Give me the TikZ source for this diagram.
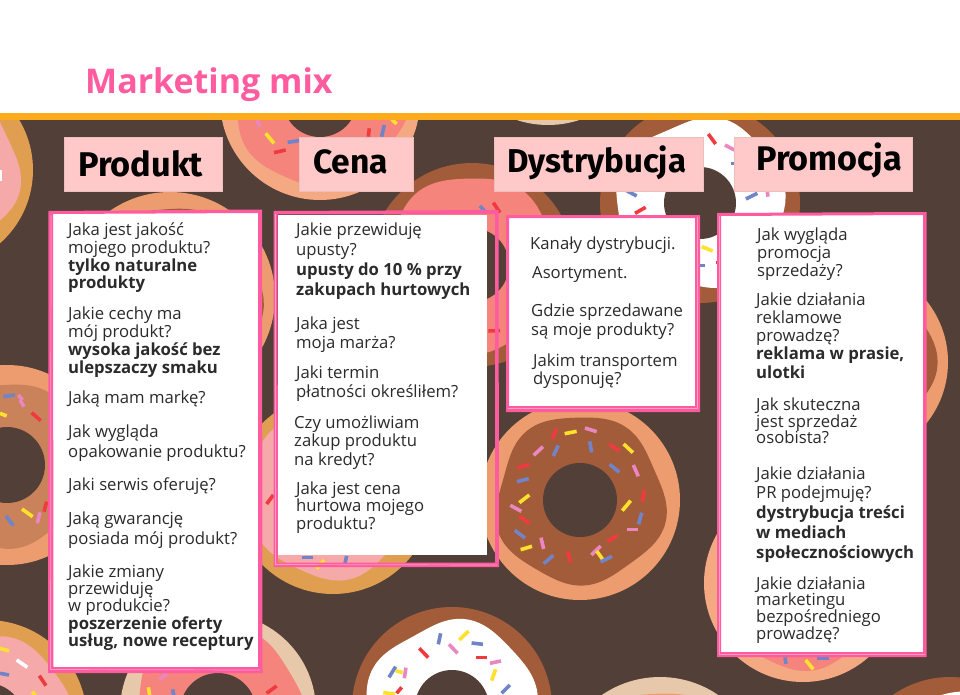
\documentclass[tikz,border=0pt]{standalone}
\usepackage{fontspec}
\usepackage{graphicx}
\setmainfont{Open Sans}
\newfontfamily\headfont{Fira Sans}
\definecolor{bgc}{HTML}{523F37}
\definecolor{barc}{HTML}{FDAB1A}
\definecolor{hdrc}{HTML}{FFC9C9}
\definecolor{pinkc}{HTML}{FF5CA0}
\definecolor{pinkl}{HTML}{FF9CC6}
\definecolor{txtc}{HTML}{2B2B2B}
\definecolor{choc}{HTML}{A35C39}
\definecolor{tanc}{HTML}{ED9C6F}
\definecolor{peach}{HTML}{F4A983}
\definecolor{salm}{HTML}{F5847D}
\definecolor{rosec}{HTML}{F5A9A8}
\definecolor{must}{HTML}{E09F50}
\definecolor{beige}{HTML}{E8C8AB}
\definecolor{milk}{HTML}{C98259}
\definecolor{sR}{HTML}{EF3B3F}
\definecolor{sY}{HTML}{FDE12D}
\definecolor{sB}{HTML}{6F84C9}
\definecolor{sP}{HTML}{EA86C0}
\tikzset{
  x=1pt,y=-1pt,
  sprk/.style={line width=3.6pt},
  hdrbox/.style={fill=hdrc,draw=hdrc!85!gray,line width=.4pt},
  hdrtxt/.style={anchor=base west,inner sep=0pt,text=black},
  paranode/.style={anchor=north west,inner sep=0pt,align=left,text=txtc},
  frameA/.style={fill=pinkc,even odd rule},
  frameB/.style={draw=pinkl,line width=.7pt},
  panel/.style={fill=white,draw=none}
}
% cx cy r ri phase base icing hole
\newcommand\donut[8]{%
  \begin{scope}[shift={(#1,#2)}]
    \fill[#6] (0,0) circle[radius=#3];
    \fill[#7] plot[domain=0:360,samples=61,smooth] (\x:{#4+3*sin(5*\x+#5)+1.5*sin(3*\x+2*#5)}) -- cycle;
    \fill[bgc] (0,0) circle[radius=#8];
  \end{scope}}
\newcommand\spr[5]{\draw[sprk,#1] (#2,#3) -- (#4,#5);}
\newcommand\mypara[5]{\node[paranode,font=\fontsize{16.7}{#4}\selectfont] (#1) at (#2,{#3-14}) {\vrule width 0pt height 14pt\relax #5};}
\newcommand\hdr[5]{\node[hdrtxt] (#1) at (#2,#3) {\resizebox{#4pt}{!}{\headfont\bfseries #5}};}
\AtBeginDocument{\lineskiplimit=-20pt\relax}
\begin{document}
\begin{tikzpicture}
\clip (0,0) rectangle (960,695);
\fill[bgc] (0,0) rectangle (960,695);
% doughnuts
\donut{-65}{170}{98}{83}{20}{must}{rosec}{37}
\donut{320}{100}{100}{86}{70}{peach}{salm}{37}
\donut{170}{297}{105}{90}{40}{tanc}{choc}{37}
\donut{472}{265}{102}{88}{10}{choc}{salm}{37}
\donut{700}{203}{100}{84}{120}{choc}{white}{36}
\donut{548}{25}{100}{85}{0}{beige}{tanc}{37}
\donut{333}{494}{100}{84}{60}{must}{rosec}{37}
\donut{7}{465}{100}{82}{30}{tanc}{milk}{38}
\donut{-13}{720}{100}{84}{90}{must}{rosec}{37}
\donut{218}{711}{98}{84}{50}{beige}{salm}{38}
\donut{452}{707}{100}{85}{140}{choc}{white}{37}
\donut{580}{500}{100}{84}{15}{tanc}{choc}{37}
\donut{850}{362}{98}{84}{75}{tanc}{choc}{37}
\donut{803}{583}{99}{86}{35}{peach}{salm}{37}
\donut{950}{777}{100}{85}{100}{choc}{white}{37}
\donut{660}{780}{103}{88}{20}{beige}{tanc}{37}
% sprinkles, central doughnut
\begin{scope}[shift={(480,400)},x=0.3333pt,y=-0.3333pt]
\spr{sR}{217}{118}{229}{86}\spr{sY}{254}{101}{290}{94}\spr{sP}{315}{84}{350}{95}
\spr{sB}{220}{168}{235}{136}\spr{sB}{329}{124}{335}{157}\spr{sR}{388}{133}{418}{153}
\spr{sY}{431}{132}{459}{158}\spr{sP}{161}{166}{189}{140}\spr{sR}{113}{204}{148}{193}
\spr{sB}{389}{193}{418}{217}\spr{sP}{460}{195}{475}{229}\spr{sB}{111}{245}{146}{236}
\spr{sR}{493}{270}{487}{305}\spr{sY}{118}{308}{148}{285}\spr{sY}{427}{332}{452}{302}
\spr{sP}{91}{316}{124}{334}\spr{sB}{485}{338}{476}{373}\spr{sR}{119}{349}{149}{371}
\spr{sP}{440}{389}{475}{389}\spr{sB}{104}{391}{135}{414}\spr{sR}{382}{425}{413}{406}
\spr{sY}{122}{449}{156}{439}\spr{sP}{183}{413}{191}{447}\spr{sP}{334}{465}{362}{438}
\spr{sB}{191}{491}{220}{466}\spr{sR}{263}{453}{271}{487}\spr{sY}{350}{453}{368}{478}
\spr{sB}{362}{486}{396}{469}
\spr{sB}{915}{772}{918}{792}\spr{sY}{977}{780}{1000}{808}\spr{sB}{1012}{775}{1048}{775}
\end{scope}
% sprinkles, lower left and bottom
\begin{scope}[shift={(0,400)},x=0.3333pt,y=-0.3333pt]
\spr{sY}{0}{40}{20}{48}\spr{sP}{60}{0}{72}{20}\spr{sR}{95}{38}{122}{62}
\spr{sY}{66}{327}{98}{350}\spr{sP}{120}{337}{112}{370}\spr{sB}{18}{348}{40}{377}
\spr{sR}{140}{305}{132}{335}\spr{sB}{10}{-10}{45}{-15}\spr{sP}{55}{-15}{68}{0}
\spr{sY}{0}{745}{27}{753}\draw[sprk,white] (50,780) -- (82,802);
\spr{sB}{0}{820}{27}{825}\spr{sR}{118}{827}{138}{857}\spr{sY}{97}{875}{108}{890}
\spr{sY}{445}{862}{450}{890}\spr{sB}{518}{868}{522}{890}\spr{sP}{478}{838}{500}{822}
\spr{sR}{800}{880}{830}{858}
\spr{sB}{905}{472}{940}{472}\spr{sY}{950}{507}{972}{480}\spr{sB}{1033}{500}{1040}{468}
\spr{sR}{800}{312}{820}{285}
\spr{sB}{1322}{700}{1315}{733}\spr{sY}{1378}{720}{1406}{693}\spr{sB}{1415}{729}{1449}{733}
\spr{sP}{1347}{733}{1373}{760}\spr{sR}{1258}{745}{1285}{773}\spr{sR}{1427}{772}{1462}{772}
\spr{sP}{1470}{790}{1503}{783}\spr{sB}{1167}{832}{1187}{800}\spr{sY}{1187}{812}{1208}{818}
\spr{sP}{1218}{803}{1213}{835}\spr{sY}{1487}{808}{1475}{842}\spr{sB}{1505}{880}{1530}{855}
\spr{sR}{1190}{880}{1205}{862}\spr{sY}{1150}{878}{1185}{882}
\end{scope}
% sprinkles, upper row
\begin{scope}[shift={(480,100)},x=0.3333pt,y=-0.3333pt]
\spr{sR}{685}{102}{707}{132}\spr{sP}{735}{135}{763}{150}\spr{sB}{752}{190}{763}{190}
\spr{sB}{798}{297}{832}{280}\spr{sP}{862}{275}{864}{290}\spr{sB}{440}{272}{470}{288}
\spr{sR}{465}{340}{497}{322}\spr{sY}{665}{440}{698}{453}\spr{sB}{660}{497}{675}{497}
\spr{sR}{708}{488}{718}{488}\spr{sR}{25}{693}{60}{692}\spr{sR}{40}{308}{60}{338}
\spr{sB}{0}{318}{15}{335}
\end{scope}
\begin{scope}[shift={(220,110)},x=0.3333pt,y=-0.3333pt]
\spr{sP}{110}{30}{120}{50}\spr{sY}{137}{70}{162}{100}\spr{sB}{203}{97}{237}{92}
\spr{sR}{162}{128}{197}{120}\spr{sR}{448}{55}{445}{80}\spr{sB}{493}{45}{485}{80}
\spr{sY}{515}{28}{530}{42}
\end{scope}
\fill[white] (0,170) rectangle (2,181);
% top band
\fill[white] (0,0) rectangle (960,113);
\fill[barc] (0,113) rectangle (960,120);
\node[anchor=base west,inner sep=0pt,text=pinkc,font=\fontsize{34}{40}\selectfont\bfseries] (title) at (85,93.5) {Marketing mix};
% column headers
\draw[hdrbox] (64,137) rectangle (222,191);
\draw[hdrbox] (299,137) rectangle (413,191);
\draw[hdrbox] (494,137) rectangle (703,191);
\draw[hdrbox] (734,137) rectangle (912,191);
\hdr{hprod}{78}{176}{125}{Produkt}
\hdr{hcena}{313}{174}{75}{Cena}
\hdr{hdys}{507}{172}{179}{Dystrybucja}
\hdr{hprom}{756}{171}{146}{Promocja}
% panels
\fill[panel] (50,213) rectangle (259,668);
\fill[frameA] (48.5,211) -- (262,209.5) -- (262.5,673) -- (48,673) -- cycle (53,214) -- (258,213) -- (258,667) -- (53.5,667) -- cycle;
\draw[frameB] (51,215) -- (50.5,669.5) -- (260,670);
\fill[frameA] (273.5,211) -- (498.5,210) -- (499,567) -- (273.5,567) -- cycle (277.5,214.5) -- (495,214) -- (495,562.5) -- (278,562.5) -- cycle;
\draw[frameB] (275.5,214) -- (275.5,564.5) -- (497,565);
\fill[panel] (278,215) rectangle (487,555);
\fill[panel] (508,218) rectangle (695,406);
\fill[frameA] (506,215) -- (700,215) -- (700,412) -- (506,412) -- cycle (509,218) -- (695,218) -- (695,406) -- (509,406) -- cycle;
\draw[frameB] (507.5,408.5) -- (697.5,408.5) -- (697.5,217);
\fill[panel] (720,215) rectangle (923,652);
\fill[frameA] (717,213) -- (926.5,212) -- (926.5,657) -- (717,657) -- cycle (721,216) -- (923,215) -- (923,652) -- (721,652) -- cycle;
\draw[frameB] (719,216) -- (719,654.5) -- (924.5,654.5);
% Produkt
\mypara{p1}{68}{235}{17.9}{Jaka jest jakość\\mojego produktu?\\\textbf{tylko naturalne}\\\textbf{produkty}}
\mypara{p2}{68}{319}{18.2}{Jakie cechy ma\\mój produkt?\\\textbf{wysoka jakość bez}\\\textbf{ulepszaczy smaku}}
\mypara{p3}{68}{403}{18}{Jaką mam markę?}
\mypara{p4}{68}{437}{20}{Jak wygląda\\opakowanie produktu?}
\mypara{p5}{68}{490}{18}{Jaki serwis oferuję?}
\mypara{p6}{68}{524}{20}{Jaką gwarancję\\posiada mój produkt?}
\mypara{p7}{68}{577}{17.3}{Jakie zmiany\\przewiduję\\w produkcie?\\\textbf{poszerzenie oferty}\\\textbf{usług, nowe receptury}}
% Cena
\mypara{c1}{296}{235}{20}{Jakie przewiduję\\upusty?\\\textbf{upusty do 10 \% przy}\\\textbf{zakupach hurtowych}}
\mypara{c2}{296}{329}{19}{Jaka jest\\moja marża?}
\mypara{c3}{296}{378}{19}{Jaki termin\\płatności określiłem?}
\mypara{c4}{294}{428}{18.5}{Czy umożliwiam\\zakup produktu\\na kredyt?}
\mypara{c5}{296}{494}{17.5}{Jaka jest cena\\hurtowa mojego\\produktu?}
% Dystrybucja
\mypara{d1}{530}{249}{18}{Kanały dystrybucji.}
\mypara{d2}{532}{278}{18}{Asortyment.}
\mypara{d3}{531}{316}{19}{Gdzie sprzedawane\\są moje produkty?}
\mypara{d4}{533}{366.5}{17.5}{Jakim transportem\\dysponuję?}
% Promocja
\mypara{r1}{757}{240}{18}{Jak wygląda\\promocja\\sprzedaży?}
\mypara{r2}{756}{305}{18.2}{Jakie działania\\reklamowe\\prowadzę?\\\textbf{reklama w prasie,}\\\textbf{ulotki}}
\mypara{r3}{756}{410}{16.8}{Jak skuteczna\\jest sprzedaż\\osobista?}
\mypara{r4}{756}{479}{19.7}{Jakie działania\\PR podejmuję?\\\textbf{dystrybucja treści}\\\textbf{w mediach}\\\textbf{społecznościowych}}
\mypara{r5}{756}{589}{16.7}{Jakie działania\\marketingu\\bezpośredniego\\prowadzę?}
\end{tikzpicture}
\end{document}
